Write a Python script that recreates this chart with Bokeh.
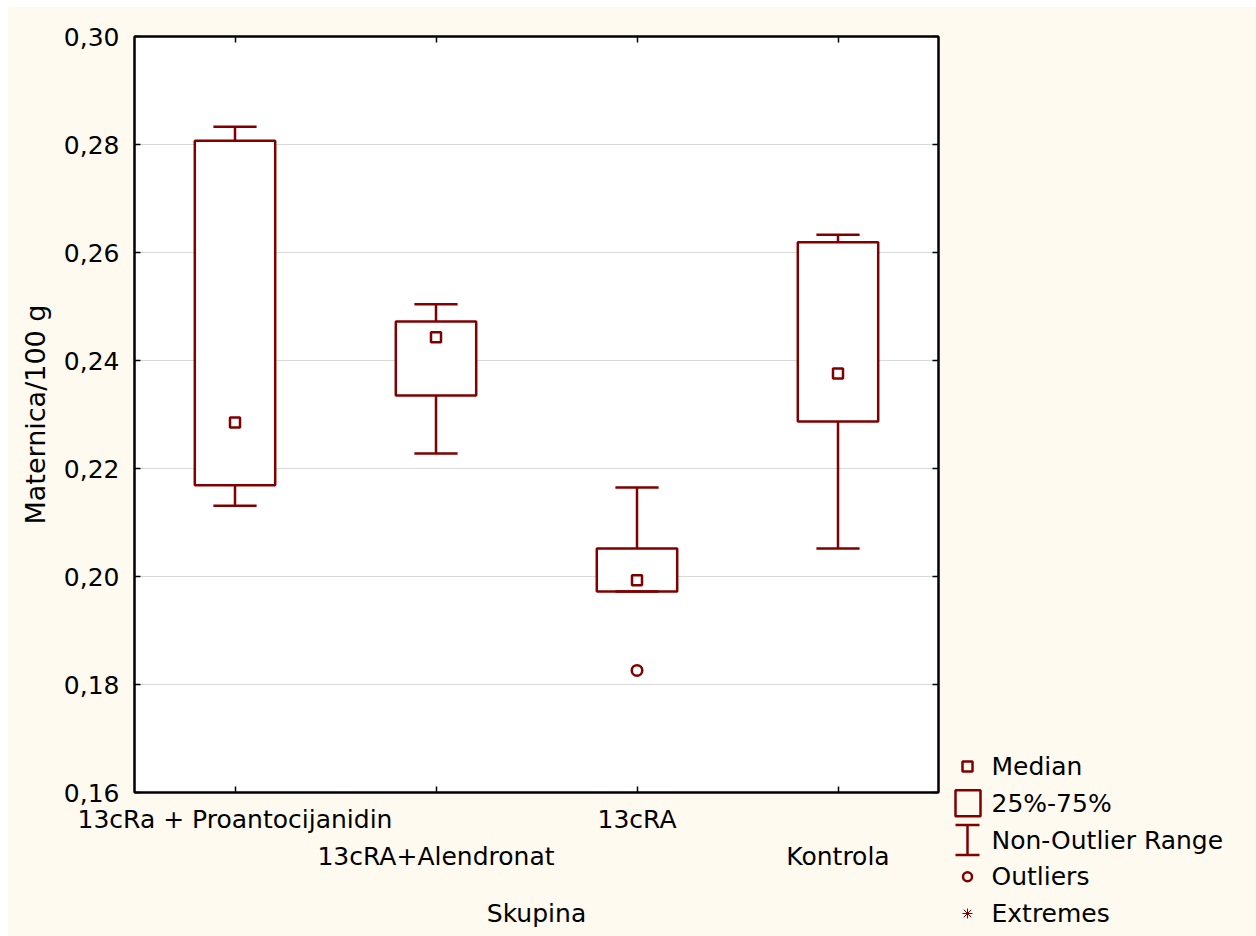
from bokeh.plotting import figure
from bokeh.models import Range1d, FixedTicker, LinearAxis, CustomJSTickFormatter
from bokeh.embed import file_html
from bokeh.resources import INLINE
from bokeh.core.properties import value

# ---------------- data ----------------
categories = ["13cRa + Proantocijanidin", "13cRA+Alendronat", "13cRA", "Kontrola"]
medians = [0.2285, 0.2443, 0.1993, 0.2376]
q1 = [0.2169, 0.2335, 0.1972, 0.2287]
q3 = [0.2807, 0.2472, 0.2052, 0.2619]
whisk_low = [0.2131, 0.2228, 0.1972, 0.2052]
whisk_high = [0.2833, 0.2504, 0.2165, 0.2633]
outlier_group = [3]
outlier_values = [0.1826]
y_ticks = [0.16, 0.18, 0.20, 0.22, 0.24, 0.26, 0.28, 0.30]
legend_labels = ["Median", "25%-75%", "Non-Outlier Range", "Outliers", "Extremes"]

# ---------------- style ----------------
CREAM = "#FEFAF0"
RED = "#800000"
FONT = "DejaVu Sans"
FS = "25px"
LW = 2.5
BOX_W = 0.4
CAP_W = 0.215

xs = list(range(1, len(categories) + 1))

p = figure(width=1249, height=930, x_range=Range1d(0.5, 4.5), y_range=Range1d(0.16, 0.30),
           output_backend="svg", toolbar_location=None,
           min_border_left=127, min_border_right=318, min_border_top=30, min_border_bottom=144,
           background_fill_color="white", border_fill_color=CREAM, outline_line_color="black",
           outline_line_width=2)
p.margin = (6, 0, 0, 7)

p.xgrid.visible = False
p.ygrid.ticker = FixedTicker(ticks=y_ticks)
p.ygrid.grid_line_color = "#D8D8D8"
p.ygrid.grid_line_width = 1

# y axis
ya = p.yaxis[0]
ya.ticker = FixedTicker(ticks=y_ticks)
ya.formatter = CustomJSTickFormatter(code="return tick.toFixed(2).replace('.', ',');")
ya.major_tick_in = 6
ya.major_tick_out = 0
ya.minor_tick_line_color = None
ya.axis_line_width = 2
ya.major_tick_line_width = 1.5
ya.major_label_text_font = FONT
ya.major_label_text_font_size = FS
ya.major_label_text_color = "black"
ya.major_label_standoff = 15
ya.axis_label = "Maternica/100 g"
ya.axis_label_text_font = FONT
ya.axis_label_text_font_size = "27px"
ya.axis_label_text_font_style = "normal"
ya.axis_label_text_color = "black"
ya.axis_label_standoff = 10

# x axis row 1 (categories 1 and 3) with ticks at all categories
xa = p.xaxis[0]
xa.ticker = FixedTicker(ticks=xs)
xa.major_label_overrides = {xs[i]: (categories[i] if i % 2 == 0 else "") for i in range(len(xs))}
xa.major_tick_in = 6
xa.major_tick_out = 0
xa.minor_tick_line_color = None
xa.axis_line_width = 2
xa.major_tick_line_width = 1.5
xa.major_label_text_font = FONT
xa.major_label_text_font_size = FS
xa.major_label_text_color = "black"
xa.major_label_standoff = 12

# x axis row 2 (categories 2 and 4) + axis title
xa2 = LinearAxis(ticker=FixedTicker(ticks=xs[1::2]),
                 major_label_overrides={xs[i]: categories[i] for i in range(1, len(xs), 2)},
                 axis_line_color=None, major_tick_line_color=None, minor_tick_line_color=None,
                 major_tick_in=0, major_tick_out=0,
                 major_label_text_font=FONT, major_label_text_font_size=FS,
                 major_label_text_color="black", major_label_standoff=5,
                 axis_label="Skupina", axis_label_text_font=FONT, axis_label_text_font_size=FS,
                 axis_label_text_font_style="normal", axis_label_text_color="black",
                 axis_label_standoff=25)
p.add_layout(xa2, "below")

empty = CustomJSTickFormatter(code="return '';")
top_ax = LinearAxis(ticker=FixedTicker(ticks=xs), formatter=empty, major_tick_in=6, major_tick_out=0,
                    minor_tick_line_color=None, axis_line_width=2, major_tick_line_width=1.5,
                    major_label_standoff=0)
p.add_layout(top_ax, "above")
right_ax = LinearAxis(ticker=FixedTicker(ticks=y_ticks), formatter=empty, major_tick_in=6, major_tick_out=0,
                      minor_tick_line_color=None, axis_line_width=2, major_tick_line_width=1.5,
                      major_label_standoff=0)
p.add_layout(right_ax, "right")

# boxes
p.vbar(x=xs, width=BOX_W, bottom=q1, top=q3, fill_color="white", line_color=RED, line_width=LW)
# whisker stems
p.segment(x0=xs, y0=q3, x1=xs, y1=whisk_high, line_color=RED, line_width=LW)
p.segment(x0=xs, y0=q1, x1=xs, y1=whisk_low, line_color=RED, line_width=LW)
# caps
p.segment(x0=[x - CAP_W / 2 for x in xs], y0=whisk_high, x1=[x + CAP_W / 2 for x in xs], y1=whisk_high,
          line_color=RED, line_width=LW)
p.segment(x0=[x - CAP_W / 2 for x in xs], y0=whisk_low, x1=[x + CAP_W / 2 for x in xs], y1=whisk_low,
          line_color=RED, line_width=LW)
# medians
p.scatter(x=xs, y=medians, marker="square", size=10, fill_color="white", line_color=RED, line_width=LW)
# outliers
p.scatter(x=outlier_group, y=outlier_values, marker="circle", size=10.5, fill_color="white",
          line_color=RED, line_width=LW)

# ---------------- legend (page-pixel ranges, drawn outside frame) ----------------
p.extra_x_ranges = {"px": Range1d(134, 938)}
p.extra_y_ranges = {"py": Range1d(792, 36)}
KX = 967
TX = 991
row_y = [766 + 36.75 * i for i in range(len(legend_labels))]
kw = dict(x_range_name="px", y_range_name="py", level="overlay")

# median key
p.rect(x=[KX], y=[row_y[0]], width=10, height=10, fill_color=None, line_color=RED,
       line_width=LW, **kw)
# box key
p.rect(x=[KX + 0.5], y=[row_y[1]], width=25, height=26, fill_color=None, line_color=RED,
       line_width=LW, **kw)
# whisker key
p.segment(x0=[KX], y0=[row_y[2] - 15], x1=[KX], y1=[row_y[2] + 15], line_color=RED, line_width=LW, **kw)
p.segment(x0=[KX - 12, KX - 12], y0=[row_y[2] - 15, row_y[2] + 15], x1=[KX + 12, KX + 12],
          y1=[row_y[2] - 15, row_y[2] + 15], line_color=RED, line_width=LW, **kw)
# outlier key
p.ellipse(x=[KX], y=[row_y[3]], width=9, height=9, fill_color=None, line_color=RED,
          line_width=LW, **kw)
# extremes key (asterisk)
r = 5
p.segment(x0=[KX, KX - r, KX - r * 0.75, KX - r * 0.75],
          y0=[row_y[4] - r, row_y[4], row_y[4] - r * 0.75, row_y[4] + r * 0.75],
          x1=[KX, KX + r, KX + r * 0.75, KX + r * 0.75],
          y1=[row_y[4] + r, row_y[4], row_y[4] + r * 0.75, row_y[4] - r * 0.75],
          line_color=RED, line_width=1, **kw)
p.text(x=[TX] * len(legend_labels), y=row_y, text=legend_labels, text_font=value(FONT),
       text_font_size=FS, text_baseline="middle", text_align="left", text_color="black", **kw)

open("out.html", "w").write(file_html(p, INLINE))
